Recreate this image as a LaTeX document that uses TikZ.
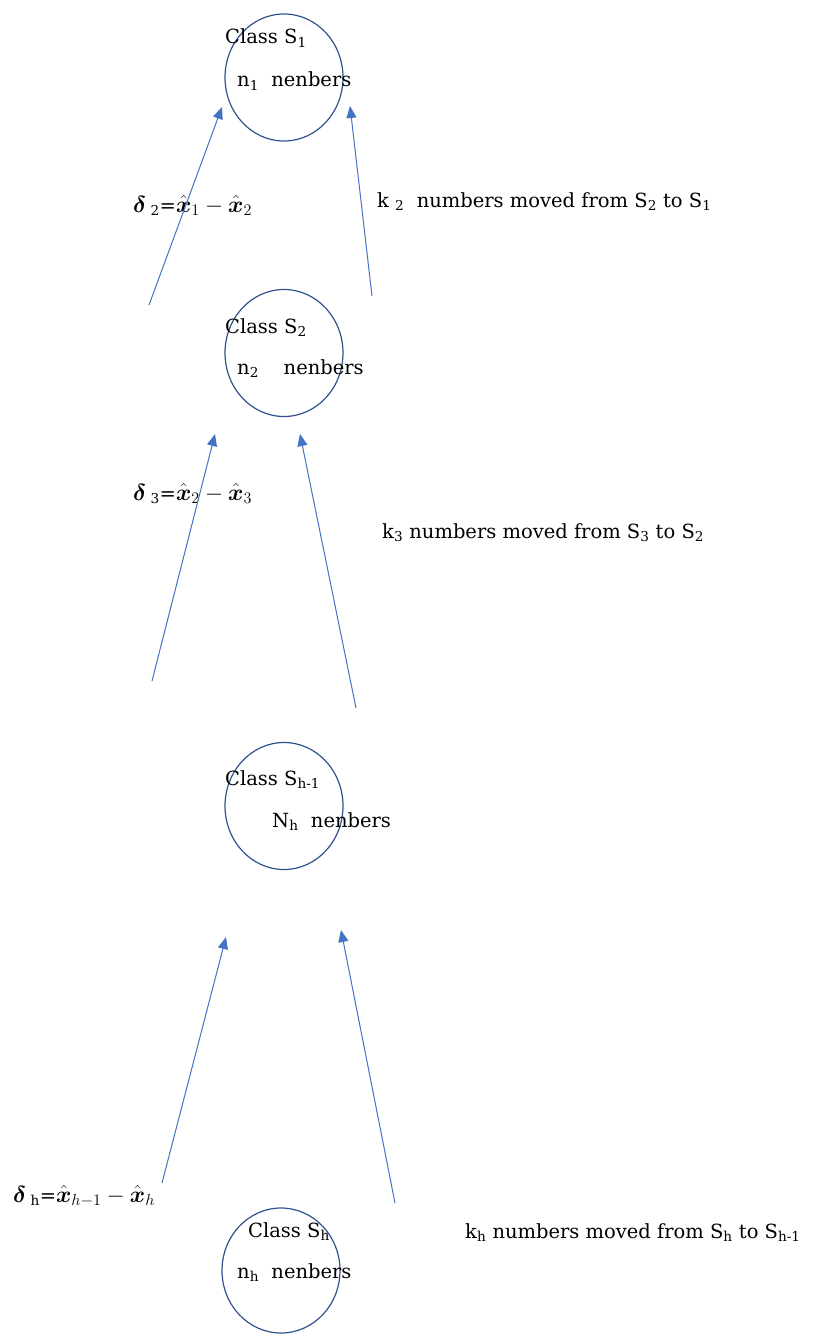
\documentclass[tikz,border=0pt]{standalone}
\usepackage{amsmath}
\usepackage{graphicx}
\usepackage{fontspec}
\setmainfont{DejaVu Serif}
\usetikzlibrary{arrows.meta,shapes.geometric}
\definecolor{arrblue}{RGB}{68,114,196}
\definecolor{ringblue}{RGB}{47,82,143}
\newcommand{\sub}[1]{\textsubscript{#1}}
\newcommand{\xh}{\hat{\boldsymbol{x}}}
\newcommand{\mbig}[1]{\scalebox{1.12}{$#1$}}
\begin{document}
\begin{tikzpicture}[x=1pt,y=-1pt,
    cls/.style={draw=ringblue,line width=1.2pt,ellipse,minimum width=118pt,minimum height=127pt,inner sep=0pt},
    lbl/.style={anchor=base west,inner sep=0pt,font=\fontsize{19.5}{24}\selectfont},
    mv/.style={draw=arrblue,line width=1pt,-{Triangle[length=12pt,width=10pt]}}]
    \useasboundingbox (0,0) rectangle (814,1335);
    % classes
    \node[cls] (s1) at (284,77.5) {};
    \node[cls] (s2) at (284,353) {};
    \node[cls] (s3) at (284,806) {};
    \node[cls,minimum height=125pt] (s4) at (281,1270.5) {};
    \node[lbl] (c1) at (225,44) {Class S\sub{1}};
    \node[lbl] (m1) at (237,87) {n\sub{1}\ \ nenbers};
    \node[lbl] (c2) at (225,333) {Class S\sub{2}};
    \node[lbl] (m2) at (237,374) {n\sub{2}\ \ \ \ nenbers};
    \node[lbl] (c3) at (225,785) {Class S\sub{h-1}};
    \node[lbl] (m3) at (272,827) {N\sub{h}\ \ nenbers};
    \node[lbl] (c4) at (248,1237) {Class S\sub{h}};
    \node[lbl] (m4) at (237,1278) {n\sub{h}\ \ nenbers};
    % differences
    \node[lbl] (d2) at (133,212) {\mbig{\boldsymbol{\delta}}\sub{ 2}=\mbig{\xh_1-\xh_2}};
    \node[lbl] (d3) at (133,500) {\mbig{\boldsymbol{\delta}}\sub{ 3}=\mbig{\xh_2-\xh_3}};
    \node[lbl] (dh) at (13,1202) {\mbig{\boldsymbol{\delta}}\sub{ h}=\mbig{\xh_{h-1}-\xh_h}};
    % moves
    \node[lbl] (k2) at (377,207) {k \sub{2}\ \ numbers moved from S\sub{2} to S\sub{1}};
    \node[lbl] (k3) at (382,538) {k\sub{3} numbers moved from S\sub{3} to S\sub{2}};
    \node[lbl] (kh) at (465,1238) {k\sub{h} numbers moved from S\sub{h} to S\sub{h-1}};
    % arrow ends
    \coordinate (a1) at (149,305);
    \coordinate (b1) at (222,107);
    \coordinate (a2) at (372,296);
    \coordinate (b2) at (350,106);
    \coordinate (a3) at (152,681);
    \coordinate (b3) at (215,434);
    \coordinate (a4) at (356,708);
    \coordinate (b4) at (300,434);
    \coordinate (a5) at (162,1183);
    \coordinate (b5) at (226,937);
    \coordinate (a6) at (395,1203);
    \coordinate (b6) at (341,930);
    \draw[mv] (a1)--(b1);
    \draw[mv] (a2)--(b2);
    \draw[mv] (a3)--(b3);
    \draw[mv] (a4)--(b4);
    \draw[mv] (a5)--(b5);
    \draw[mv] (a6)--(b6);
\end{tikzpicture}
\end{document}
